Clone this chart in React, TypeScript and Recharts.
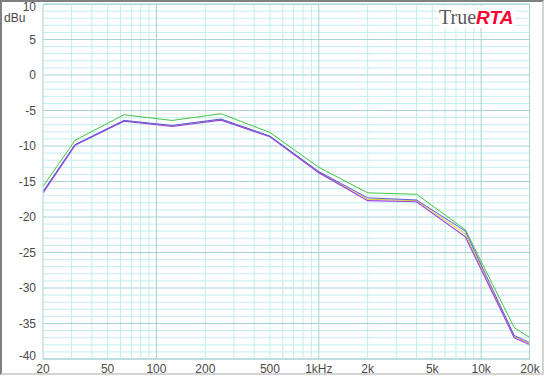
import React from 'react';
import { LineChart, Line, XAxis, YAxis, CartesianGrid } from 'recharts';

const freqs = [20, 31.5, 63, 125, 250, 500, 1000, 2000, 4000, 8000, 16000, 20000];
const greenLevels = [-15.7, -9.2, -5.6, -6.4, -5.45, -8.1, -13.0, -16.6, -16.8, -21.8, -35.6, -37.0];
const yellowLevels = [-16.5, -9.85, -6.4, -7.2, -6.25, -8.65, -13.65, -17.5, -17.7, -22.4, -36.8, -37.9];
const purpleLevels = [-16.6, -9.9, -6.5, -7.25, -6.35, -8.7, -13.75, -17.7, -17.85, -22.8, -37.0, -38.0];
const blueLevels = [-16.4, -9.8, -6.4, -7.1, -6.2, -8.6, -13.6, -17.3, -17.6, -22.0, -36.7, -37.7];

const xTicks = [20, 50, 100, 200, 500, 1000, 2000, 5000, 10000, 20000];
const xTickLabels = ['20', '50', '100', '200', '500', '1kHz', '2k', '5k', '10k', '20k'];
const yTicks = [10, 5, 0, -5, -10, -15, -20, -25, -30, -35, -40];

const minorFreqs = [30, 40, 50, 60, 70, 80, 90, 200, 300, 400, 500, 600, 700, 800, 900,
  2000, 3000, 4000, 5000, 6000, 7000, 8000, 9000];
const majorFreqs = [100, 1000, 10000];
const minorLevels = [9, 8, 7, 6, 4, 3, 2, 1, -1, -2, -3, -4, -6, -7, -8, -9, -11, -12, -13, -14,
  -16, -17, -18, -19, -21, -22, -23, -24, -26, -27, -28, -29, -31, -32, -33, -34, -36, -37, -38, -39];

const data = freqs.map((f, i) => ({
  f,
  green: greenLevels[i],
  yellow: yellowLevels[i],
  purple: purpleLevels[i],
  blue: blueLevels[i],
}));

const W = 544;
const H = 377;
const PLOT_BOTTOM = 359;
const labelFont = '"Liberation Sans", Arial, sans-serif';

const XTick = (props: any) => {
  const { x, payload } = props;
  const idx = xTicks.indexOf(payload.value);
  return (
    <text x={x} y={PLOT_BOTTOM + 14} textAnchor="middle" fontSize={12} fontFamily={labelFont} fill="#4a4a4a">
      {xTickLabels[idx]}
    </text>
  );
};

const YTick = (props: any) => {
  const { x, y, payload } = props;
  // edge labels are pushed inside, as in the original
  let dy = 4;
  if (payload.value === 10) dy = 7;
  if (payload.value === -40) dy = 1;
  return (
    <text x={x + 1} y={y + dy} textAnchor="end" fontSize={12} fontFamily={labelFont} fill="#4a4a4a">
      {payload.value}
    </text>
  );
};

const App: React.FC = () => {
  return (
    <div style={{ position: 'absolute', left: 0, top: 0, width: W, height: H, background: '#fff' }}>
      <LineChart width={W} height={H} data={data} margin={{ top: 4, right: 14, bottom: 0, left: 0 }}>
        <CartesianGrid
          stroke="#c2eeee"
          verticalValues={minorFreqs}
          horizontalValues={minorLevels}
        />
        <CartesianGrid
          stroke="#a8d4d4"
          verticalValues={majorFreqs}
          horizontalValues={yTicks}
        />
        <XAxis
          dataKey="f"
          type="number"
          scale="log"
          domain={[20, 20000]}
          ticks={xTicks}
          allowDataOverflow
          height={18}
          tickLine={false}
          axisLine={{ stroke: '#a8d4d4' }}
          tick={<XTick />}
          interval={0}
        />
        <YAxis
          type="number"
          domain={[-40, 10]}
          ticks={yTicks}
          allowDataOverflow
          width={43}
          tickLine={false}
          axisLine={{ stroke: '#a8d4d4' }}
          tick={<YTick />}
          interval={0}
        />
        <Line dataKey="green" stroke="#44c444" strokeWidth={1} dot={false} isAnimationActive={false} />
        <Line dataKey="yellow" stroke="#e0d020" strokeWidth={1} dot={false} isAnimationActive={false} />
        <Line dataKey="purple" stroke="#a040e8" strokeWidth={1.2} dot={false} isAnimationActive={false} />
        <Line dataKey="blue" stroke="#5a5ae0" strokeWidth={1} dot={false} isAnimationActive={false} />
      </LineChart>
      <div style={{ position: 'absolute', left: 529, top: 4, width: 1, height: 355, background: '#a8d4d4' }} />
      <div style={{ position: 'absolute', left: 43, top: 4, width: 487, height: 1, background: '#a8d4d4' }} />
      <div style={{ position: 'absolute', left: 4, top: 11, fontFamily: labelFont, fontSize: 12, color: '#4a4a4a' }}>
        dBu
      </div>
      <div
        style={{
          position: 'absolute',
          left: 439,
          top: 6,
          height: 22,
          paddingRight: 2,
          background: '#fff',
          whiteSpace: 'nowrap',
          lineHeight: '22px',
        }}
      >
        <span style={{ fontFamily: '"Liberation Serif", "Times New Roman", serif', fontSize: 20, color: '#5a5a5a' }}>True</span>
        <span
          style={{
            fontFamily: labelFont,
            fontSize: 19,
            fontWeight: 'bold',
            fontStyle: 'italic',
            color: '#ff0033',
          }}
        >
          RTA
        </span>
      </div>
      <div
        style={{
          position: 'absolute',
          left: 0,
          top: 0,
          width: 540,
          height: 371,
          borderLeft: '2px solid #808080',
          borderTop: '2px solid #808080',
          borderRight: '2px solid #d4d4d4',
          borderBottom: '2px solid #d4d4d4',
          pointerEvents: 'none',
        }}
      />
    </div>
  );
};

export default App;
